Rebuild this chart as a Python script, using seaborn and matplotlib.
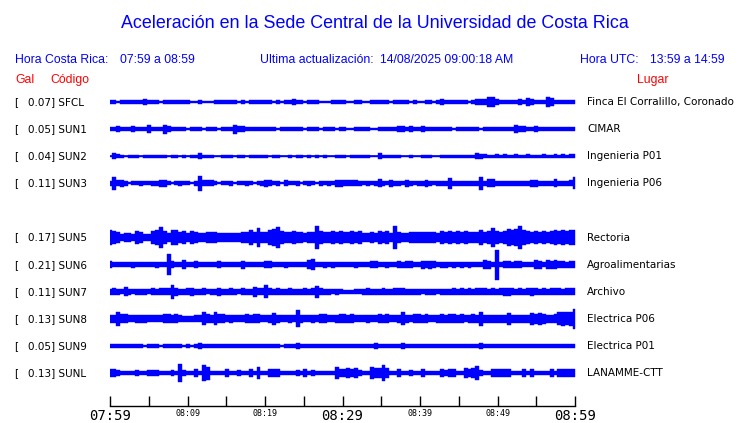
import numpy as np
import pandas as pd
import matplotlib
matplotlib.use('Agg')
import matplotlib.pyplot as plt
import seaborn as sns

# ----------------------------------------------------------------------
# Data (half-amplitude of each trace, in pixels,
# one value every 30 s from 07:59 to 08:59)
# ----------------------------------------------------------------------
codes = ['SFCL', 'SUN1', 'SUN2', 'SUN3', 'SUN5', 'SUN6', 'SUN7', 'SUN8', 'SUN9', 'SUNL']
gal = [0.07, 0.05, 0.04, 0.11, 0.17, 0.21, 0.11, 0.13, 0.05, 0.13]
places = ['Finca El Corralillo, Coronado', 'CIMAR', 'Ingenieria P01', 'Ingenieria P06',
          'Rectoria', 'Agroalimentarias', 'Archivo', 'Electrica P06', 'Electrica P01',
          'LANAMME-CTT']

amp_sfcl = [1.6, 1.6, 0.6, 1.6, 1.7, 1.7, 1.6, 1.8, 1.6, 2.6, 1.7, 1.6, 1.6, 0.6, 1.7, 1.6, 1.8, 1.8, 1.7, 1.7,
            1.2, 0.5, 0.5, 1.6, 0.5, 0.5, 0.5, 1.8, 1.9, 1.7, 1.6, 1.6, 1.5, 0.5, 1.2, 0.5, 1.4, 1.6, 1.6, 1.6,
            1.6, 1.5, 0.5, 1.5, 0.5, 1.6, 1.7, 2.0, 1.6, 1.5, 0.5, 1.5, 1.5, 1.2, 0.5, 0.5, 0.5, 1.4, 1.5, 1.4,
            1.4, 0.5, 0.5, 1.2, 1.2, 0.5, 0.5, 1.6, 1.6, 1.6, 1.4, 1.4, 0.5, 1.5, 1.5, 1.4, 1.6, 0.5, 1.3, 0.5,
            0.5, 1.5, 1.5, 0.5, 1.6, 2.2, 1.6, 1.7, 1.6, 1.5, 1.5, 1.4, 0.5, 1.4, 2.0, 2.0, 2.2, 3.5, 4.2, 2.5,
            1.8, 1.8, 1.7, 1.8, 1.9, 2.0, 1.9, 3.0, 2.0, 1.9, 1.8, 1.9, 3.5, 3.0, 1.7, 1.6, 1.6, 1.7, 1.6, 1.6]
amp_sun1 = [1.7, 1.8, 2.5, 1.7, 1.8, 1.7, 2.5, 1.8, 1.7, 1.7, 2.8, 1.7, 1.8, 1.7, 3.5, 2.5, 1.7, 1.7, 1.6, 1.6,
            1.0, 1.6, 1.6, 1.6, 0.9, 1.6, 1.7, 1.6, 0.9, 1.6, 1.7, 1.8, 3.5, 2.5, 2.3, 1.6, 1.6, 1.7, 1.6, 1.6,
            1.7, 1.6, 1.6, 0.9, 1.8, 1.7, 1.7, 1.6, 1.6, 1.6, 0.9, 1.6, 1.7, 1.7, 1.0, 1.6, 1.6, 1.7, 1.0, 1.6,
            1.7, 1.0, 1.0, 1.6, 1.7, 1.6, 1.6, 0.9, 1.0, 1.6, 1.7, 1.7, 1.8, 1.6, 2.5, 2.4, 1.8, 2.5, 1.8, 1.8,
            2.3, 1.8, 1.7, 1.8, 1.7, 1.8, 1.7, 1.8, 0.9, 1.7, 1.8, 1.7, 1.8, 1.8, 1.7, 0.9, 1.8, 1.8, 1.8, 1.8,
            1.8, 1.8, 1.8, 1.8, 3.0, 2.5, 2.6, 1.8, 1.8, 2.3, 1.8, 1.8, 1.8, 1.8, 1.8, 1.8, 1.8, 1.8, 1.8, 1.8]
amp_sun2 = [0.5, 2.2, 1.4, 1.3, 0.5, 1.3, 1.3, 1.2, 0.5, 1.2, 1.3, 1.3, 1.3, 1.3, 1.3, 0.5, 1.2, 1.2, 0.5, 1.2,
            0.5, 1.2, 1.2, 2.5, 1.3, 1.3, 1.3, 0.5, 0.5, 1.2, 1.2, 1.2, 0.5, 1.3, 1.3, 0.5, 1.2, 1.3, 1.3, 1.3,
            1.3, 0.5, 1.2, 1.2, 0.5, 0.5, 1.2, 0.5, 1.3, 1.3, 0.5, 1.2, 0.5, 1.2, 0.5, 1.2, 0.5, 0.5, 1.2, 1.2,
            1.2, 0.5, 1.2, 1.2, 1.2, 1.2, 1.2, 0.5, 0.5, 2.5, 1.3, 1.3, 1.3, 1.3, 1.3, 0.5, 0.5, 1.2, 0.5, 0.5,
            1.3, 1.3, 1.3, 0.5, 0.5, 1.2, 1.2, 1.3, 1.3, 1.3, 1.3, 1.3, 1.3, 1.3, 2.2, 2.0, 1.4, 1.3, 1.3, 1.4,
            1.3, 1.4, 1.3, 1.3, 1.4, 1.3, 1.3, 1.4, 1.3, 1.3, 1.3, 1.4, 1.3, 1.3, 1.4, 1.3, 1.4, 1.3, 1.4, 1.4]
amp_sun3 = [2.0, 5.0, 2.3, 2.5, 1.7, 0.9, 1.6, 1.6, 1.7, 1.6, 1.6, 1.7, 1.7, 2.5, 2.5, 1.6, 0.9, 1.6, 1.7, 1.6,
            1.6, 0.9, 1.7, 6.0, 2.3, 2.2, 2.2, 1.6, 0.9, 1.6, 1.6, 1.7, 0.9, 1.6, 1.6, 1.7, 1.6, 0.9, 1.6, 1.7,
            2.5, 2.2, 1.6, 1.7, 0.9, 2.3, 1.6, 1.6, 1.7, 0.9, 1.6, 1.7, 1.6, 0.9, 1.7, 1.6, 1.7, 1.6, 2.5, 2.5,
            2.4, 2.3, 2.3, 2.2, 1.7, 1.6, 1.7, 1.6, 1.7, 3.0, 1.7, 1.6, 2.5, 1.7, 1.7, 1.6, 2.5, 1.7, 1.6, 1.7,
            1.7, 2.5, 1.7, 1.6, 1.7, 1.7, 1.8, 4.0, 1.8, 1.7, 1.7, 1.7, 1.8, 1.7, 1.8, 5.0, 2.0, 3.0, 3.0, 1.8,
            1.8, 1.9, 1.8, 1.8, 1.9, 1.8, 1.9, 1.8, 2.5, 2.5, 1.8, 1.9, 1.8, 1.8, 3.0, 1.9, 1.8, 1.9, 2.2, 4.5]
amp_sun5 = [5.5, 5.0, 4.5, 3.0, 3.5, 3.5, 3.0, 5.0, 4.5, 2.8, 3.0, 5.0, 5.5, 8.0, 5.0, 3.5, 5.5, 5.5, 4.5, 5.0,
            3.5, 5.0, 4.5, 3.5, 3.5, 4.5, 4.0, 4.5, 3.5, 3.5, 3.5, 3.8, 3.5, 3.5, 4.0, 4.0, 6.0, 4.0, 7.0, 4.0,
            4.0, 6.0, 6.5, 8.0, 5.0, 4.0, 4.0, 5.0, 4.0, 4.0, 3.5, 4.0, 4.5, 9.0, 5.0, 4.5, 4.5, 5.0, 4.5, 5.0,
            4.5, 4.0, 5.0, 4.5, 5.0, 3.5, 3.5, 4.0, 3.5, 5.0, 4.5, 5.0, 3.5, 9.0, 4.0, 3.5, 3.5, 4.5, 4.0, 4.5,
            4.0, 4.5, 4.0, 4.5, 3.5, 5.0, 4.5, 5.0, 4.5, 5.0, 4.5, 5.0, 4.5, 4.0, 4.5, 6.0, 4.5, 5.0, 7.5, 5.0,
            4.5, 5.0, 6.5, 6.0, 6.5, 9.0, 6.0, 5.0, 4.5, 5.0, 4.5, 5.0, 4.5, 5.0, 5.5, 5.0, 5.5, 5.0, 5.5, 5.5]
amp_sun6 = [2.5, 1.7, 1.7, 1.7, 1.7, 1.7, 2.3, 1.7, 1.7, 1.7, 1.7, 1.7, 2.3, 1.7, 1.7, 8.0, 2.5, 1.7, 1.7, 3.5,
            1.7, 1.7, 2.5, 1.7, 1.7, 1.7, 1.7, 1.7, 2.5, 1.7, 1.7, 1.7, 1.7, 1.7, 3.0, 1.7, 1.7, 1.7, 1.7, 1.7,
            2.5, 2.5, 1.7, 1.7, 1.7, 2.3, 1.7, 1.7, 1.7, 1.7, 1.7, 3.5, 4.0, 1.7, 1.7, 2.3, 2.2, 2.3, 1.7, 1.7,
            1.7, 1.7, 1.7, 2.3, 1.7, 1.7, 1.7, 2.5, 2.5, 1.7, 1.7, 2.3, 1.7, 1.7, 2.5, 2.3, 2.5, 2.5, 1.7, 1.7,
            3.0, 2.5, 3.0, 2.5, 1.7, 2.3, 2.3, 1.7, 2.3, 2.2, 2.3, 2.2, 2.3, 1.7, 1.7, 1.7, 3.5, 3.0, 2.0, 11.5,
            2.0, 2.5, 2.5, 2.3, 2.5, 2.5, 1.7, 1.7, 1.8, 3.5, 3.0, 1.8, 3.5, 3.0, 3.5, 2.5, 2.5, 2.3, 2.5, 2.5]
amp_sun7 = [2.3, 2.5, 2.2, 2.0, 3.5, 2.3, 1.8, 2.3, 2.2, 2.4, 2.0, 2.5, 2.3, 2.5, 2.8, 2.5, 5.5, 3.0, 2.3, 2.2,
            2.5, 3.0, 2.3, 2.2, 2.5, 2.0, 2.3, 2.2, 3.0, 2.3, 2.2, 2.5, 2.3, 2.0, 2.5, 2.3, 2.2, 4.0, 2.5, 2.8,
            5.0, 2.8, 2.2, 2.5, 2.3, 2.2, 2.5, 2.3, 2.2, 2.3, 2.5, 2.2, 2.8, 4.5, 2.5, 2.3, 2.2, 2.0, 2.2, 2.0,
            1.6, 1.6, 1.6, 1.8, 2.0, 2.3, 2.5, 2.3, 2.2, 2.3, 2.5, 2.2, 2.3, 2.8, 2.8, 2.5, 2.3, 2.2, 2.3, 2.2,
            2.0, 2.2, 2.3, 2.2, 2.0, 2.3, 2.2, 2.3, 2.5, 2.4, 2.5, 2.3, 2.5, 2.4, 2.8, 2.8, 2.5, 2.4, 2.5, 2.4,
            2.5, 3.2, 3.0, 2.5, 2.4, 2.5, 2.4, 2.5, 3.0, 2.5, 2.4, 2.5, 2.4, 2.6, 2.8, 2.5, 2.4, 2.5, 2.5, 2.5]
amp_sun8 = [3.0, 3.2, 5.5, 3.5, 3.5, 2.8, 2.8, 3.2, 3.0, 3.2, 2.8, 2.8, 2.8, 2.8, 3.5, 3.5, 3.2, 3.5, 2.8, 2.5,
            2.5, 2.5, 2.8, 2.8, 5.0, 3.5, 3.0, 5.0, 3.5, 3.5, 2.8, 3.0, 2.8, 2.8, 2.8, 3.5, 3.2, 3.5, 3.5, 2.8,
            2.8, 3.0, 4.5, 3.0, 2.8, 2.8, 3.0, 2.8, 6.5, 3.0, 2.8, 2.8, 3.0, 2.8, 3.5, 3.5, 2.8, 2.8, 3.0, 3.5,
            3.5, 3.2, 3.5, 2.8, 2.8, 2.8, 3.0, 2.8, 2.8, 3.5, 3.2, 3.5, 2.8, 2.8, 3.0, 5.0, 3.0, 2.8, 3.5, 3.5,
            3.2, 3.5, 2.8, 2.8, 3.0, 3.5, 3.2, 3.5, 3.5, 3.2, 3.5, 2.8, 3.0, 3.5, 3.2, 5.5, 3.0, 3.2, 3.0, 3.2,
            3.0, 3.2, 4.5, 3.2, 3.0, 3.2, 3.0, 3.2, 4.5, 4.0, 4.5, 4.0, 3.2, 3.0, 3.5, 5.0, 5.5, 5.0, 5.5, 7.5]
amp_sun9 = [1.4, 1.8, 1.5, 1.4, 1.4, 1.3, 1.4, 1.3, 1.4, 1.0, 1.4, 1.3, 1.4, 1.0, 1.4, 1.3, 1.4, 1.3, 1.4, 1.0,
            1.3, 1.0, 1.4, 2.0, 1.4, 1.3, 1.4, 1.3, 1.4, 1.3, 1.4, 1.3, 1.4, 1.3, 1.4, 1.3, 1.4, 1.3, 1.4, 1.3,
            1.4, 1.3, 1.4, 1.3, 1.0, 1.8, 1.5, 1.4, 2.2, 1.5, 1.4, 1.3, 1.4, 1.3, 1.4, 1.3, 1.4, 1.3, 1.4, 1.3,
            1.4, 1.3, 1.4, 1.3, 1.4, 1.3, 1.4, 1.3, 2.0, 1.8, 1.4, 1.3, 1.4, 1.3, 1.4, 2.0, 1.4, 1.3, 1.4, 1.3,
            1.4, 1.3, 1.4, 1.3, 1.4, 1.3, 1.4, 1.8, 1.4, 1.3, 1.4, 1.3, 1.4, 1.3, 1.4, 2.2, 1.4, 1.3, 1.4, 1.3,
            1.4, 1.3, 1.4, 1.3, 1.4, 1.3, 1.4, 1.3, 1.4, 1.3, 1.4, 1.3, 1.4, 1.3, 1.4, 1.3, 1.4, 1.3, 1.4, 1.8]
amp_sunl = [3.0, 2.8, 2.5, 1.8, 1.8, 1.8, 1.8, 2.5, 1.8, 1.8, 2.5, 2.5, 2.5, 1.8, 1.8, 1.8, 2.5, 1.8, 7.0, 2.2,
            1.8, 1.8, 3.0, 1.8, 6.5, 5.0, 1.8, 1.8, 1.8, 1.8, 3.0, 1.8, 1.8, 2.5, 1.8, 1.8, 3.0, 1.8, 4.5, 1.8,
            1.8, 3.0, 2.8, 3.0, 1.8, 1.8, 1.8, 1.8, 2.5, 1.8, 3.0, 1.8, 2.5, 1.8, 1.8, 1.8, 1.8, 1.8, 4.5, 3.0,
            3.0, 3.5, 3.2, 3.5, 2.5, 1.8, 1.8, 4.5, 4.0, 3.5, 6.0, 3.5, 1.8, 1.8, 3.0, 1.8, 1.8, 2.5, 1.8, 1.8,
            3.0, 1.8, 1.8, 1.8, 1.8, 2.8, 2.5, 2.8, 2.8, 1.8, 1.8, 3.5, 3.0, 3.5, 5.5, 2.0, 1.8, 1.8, 3.0, 2.8,
            3.0, 2.8, 3.0, 1.8, 1.8, 1.8, 2.8, 1.8, 3.0, 1.8, 1.8, 1.8, 1.8, 2.8, 1.8, 3.0, 2.8, 3.0, 2.8, 3.0]

tick_labels = ['07:59', '08:09', '08:19', '08:29', '08:39', '08:49', '08:59']

# ----------------------------------------------------------------------
# Layout (pixel units of a 740 x 423 canvas)
# ----------------------------------------------------------------------
W, H = 740, 423
slots = [0, 1, 2, 3, 5, 6, 7, 8, 9, 10]          # empty slot 4 = station not reporting
row_y = [102 + 27.1 * s for s in slots]
GAIN = 1.3                                       # drawn pixels per read pixel
BLUE = '#0000ff'
RED = '#ff0000'

amps = [amp_sfcl, amp_sun1, amp_sun2, amp_sun3, amp_sun5,
        amp_sun6, amp_sun7, amp_sun8, amp_sun9, amp_sunl]
n = len(amp_sfcl)
times = np.arange(n) * 60 / (n - 1)              # minutes after 07:59

recs = []
for code, a_list, y0 in zip(codes, amps, row_y):
    for t, a in zip(times, a_list):
        recs.append({'code': code, 't': t, 'y': y0 + GAIN * a})
        recs.append({'code': code, 't': t, 'y': y0 - GAIN * a})
df = pd.DataFrame(recs)

sns.set_theme(style='white')
plt.rcParams['font.family'] = ['DejaVu Sans']

fig = plt.figure(figsize=(W / 100, H / 100), dpi=100)
ax = fig.add_axes([110 / W, (H - 406) / H, 465 / W, (406 - 86) / H])

# band = min..max of the two envelope points, line = trace centre
sns.lineplot(data=df, x='t', y='y', hue='code', palette={c: BLUE for c in codes},
             estimator='mean', errorbar=('pi', 100), linewidth=1.2, legend=False,
             err_kws={'alpha': 1, 'step': 'mid', 'linewidth': 0.3}, ax=ax)

ax.set_xlim(0, 60)
ax.set_ylim(406, 86)
ax.set_xlabel('')
ax.set_ylabel('')
ax.set_yticks([])
for s in ['left', 'top', 'right']:
    ax.spines[s].set_visible(False)
ax.spines['bottom'].set_color('black')
ax.spines['bottom'].set_linewidth(1.0)

ax.set_xticks(np.arange(0, 61, 5))
ax.set_xticklabels([tick_labels[i // 2] if i % 2 == 0 else '' for i in range(13)])
ax.tick_params(axis='x', direction='in', length=7.5, width=1.0, color='black', pad=2,
               bottom=True)
for i, lab in enumerate(ax.get_xticklabels()):
    lab.set_family('DejaVu Sans Mono')
    lab.set_color('black')
    lab.set_fontsize(10 if i in (0, 6, 12) else 6)

# ----------------------------------------------------------------------
# Texts
# ----------------------------------------------------------------------
def px(x, y, s, **kw):
    fig.text(x / W, 1 - y / H, s, **kw)

hdr = dict(family='Liberation Sans', color=BLUE, va='center', fontsize=8.8)
px(375, 23, 'Aceleración en la Sede Central de la Universidad de Costa Rica',
   family='Liberation Sans', color=BLUE, ha='center', va='center', fontsize=12.9)
px(15, 60, 'Hora Costa Rica:', **hdr)
px(120, 60, '07:59 a 08:59', **hdr)
px(260, 60, 'Ultima actualización:', **hdr)
px(380, 60, '14/08/2025 09:00:18 AM', **hdr)
px(580, 60, 'Hora UTC:', **hdr)
px(650, 60, '13:59 a 14:59', **hdr)
red = dict(hdr, color=RED)
px(15, 80, 'Gal', **red)
px(50, 80, 'Código', **red)
px(637, 80, 'Lugar', **red)

lab = dict(family='DejaVu Sans', color='black', va='center', fontsize=7.5)
for g, code, place, y0 in zip(gal, codes, places, row_y):
    px(14, y0, '[', **lab)
    px(28, y0, f'{g:.2f}] {code}', **lab)
    px(587, y0, place, **lab)

fig.savefig('out.png', dpi=100, facecolor='white')
